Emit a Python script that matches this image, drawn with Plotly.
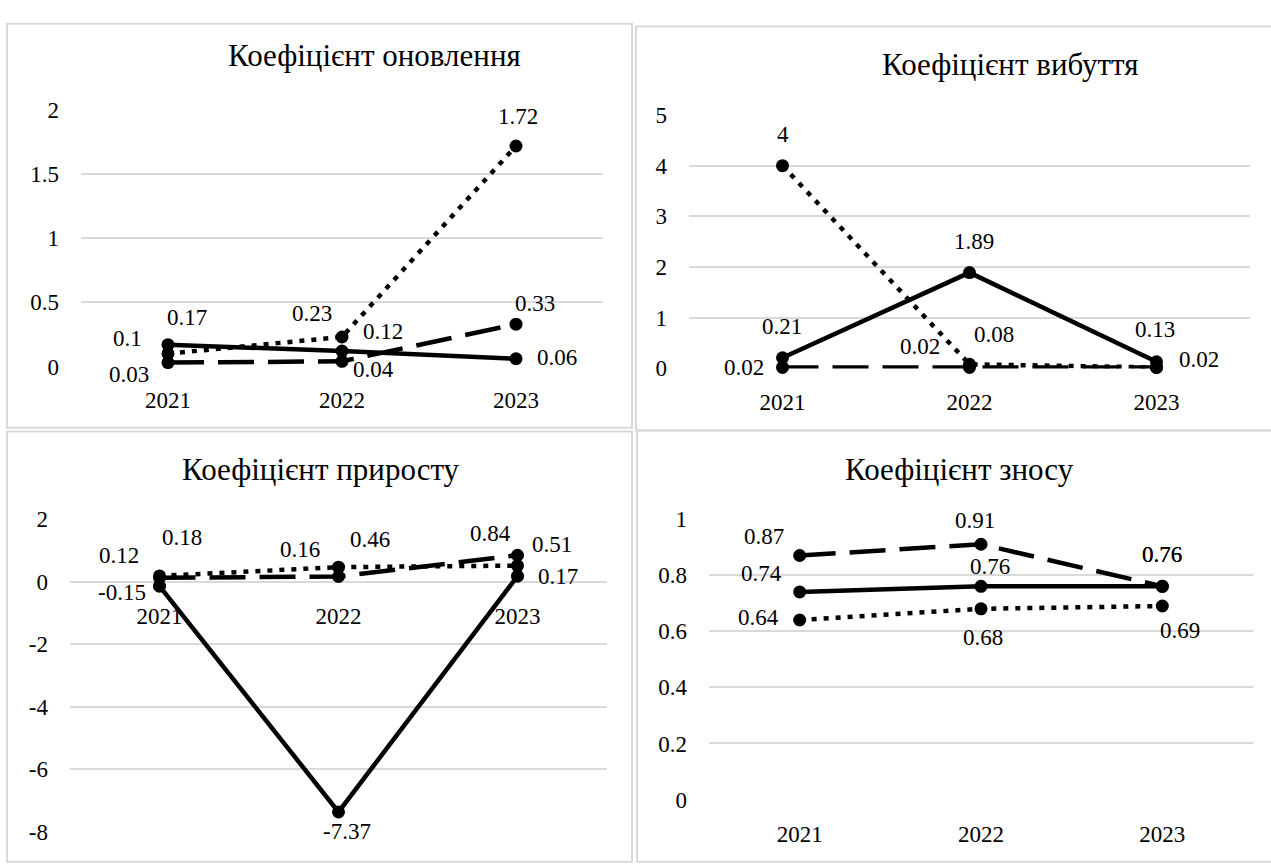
import plotly.graph_objects as go

# ---------------- data ----------------
years = ["2021", "2022", "2023"]

titles = ["Коефіцієнт оновлення", "Коефіцієнт вибуття", "Коефіцієнт приросту", "Коефіцієнт зносу"]

renewal_solid = [0.17, 0.12, 0.06]
renewal_dashed = [0.03, 0.04, 0.33]
renewal_dotted = [0.1, 0.23, 1.72]

disposal_solid = [0.21, 1.89, 0.13]
disposal_dashed = [0.02, 0.02, 0.02]
disposal_dotted = [4, 0.08, 0.02]

growth_solid = [-0.15, -7.37, 0.17]
growth_dashed = [0.12, 0.16, 0.84]
growth_dotted = [0.18, 0.46, 0.51]

wear_solid = [0.74, 0.76, 0.76]
wear_dashed = [0.87, 0.91, 0.76]
wear_dotted = [0.64, 0.68, 0.69]

y_ticks = [
    [0, 0.5, 1, 1.5, 2],
    [0, 1, 2, 3, 4, 5],
    [-8, -6, -4, -2, 0, 2],
    [0, 0.2, 0.4, 0.6, 0.8, 1],
]

# ---------------- layout / style ----------------
W, H = 1271, 868
FONT = "'Liberation Serif', 'Times New Roman', Times, 'DejaVu Serif', serif"
GRID = "#d9d9d9"
TXT = 23
TITLE = 31

# plot areas in pixels: (left, top, right, bottom)
areas = [(81, 101, 603, 365), (689, 106, 1250, 367), (70, 522, 607, 844), (709, 522, 1253, 811)]
# panel borders in pixels
borders = [(7, 12, 632, 428), (636, 15, 1275, 431), (7, 432, 632, 875), (637, 431, 1275, 875)]
# title centres in pixels
title_pos = [(374, 45), (1010, 54), (321, 471), (959, 471)]

line_styles = {
    "solid": dict(color="black", width=4.5, dash="solid"),
    "dashed": dict(color="black", width=4.5, dash="36px,14px"),
    "dotted": dict(color="black", width=4.5, dash="5px,7px"),
}

series = [
    {"dotted": renewal_dotted, "dashed": renewal_dashed, "solid": renewal_solid},
    {"dotted": disposal_dotted, "dashed": disposal_dashed, "solid": disposal_solid},
    {"dotted": growth_dotted, "dashed": growth_dashed, "solid": growth_solid},
    {"dotted": wear_dotted, "dashed": wear_dashed, "solid": wear_solid},
]

# label offsets (dx, dy) in pixels from each point (dy positive = downwards);
# None = label not shown (hidden behind another one in the original)
label_offsets = [
    {"solid": [(19, -27), (41, -20), (41, -1)],
     "dashed": [(-39, 12), (31, 8), (19, -21)],
     "dotted": [(-41, -15), (-30, -23), (2, -30)]},
    {"solid": [(-1, -31), (4, -31), (-2, -32)],
     "dashed": [(-39, 0), (-50, -21), None],
     "dotted": [(0, -31), (24, -30), (42, -8)]},
    {"solid": [(-38, 6), (8, 20), (40, 0)],
     "dashed": [(-41, -22), (-39, -27), (-27, -22)],
     "dotted": [(22, -38), (31, -28), (34, -21)]},
    {"solid": [(-38, -18), (9, -20), (0, -32)],
     "dashed": [(-36, -19), (-6, -24), (0, -32)],
     "dotted": [(-41, -3), (2, 29), (18, 25)]},
]


def fmt(v):
    return f"{v:g}"


fig = go.Figure()
annotations = []
shapes = []
layout_axes = {}

for i in range(4):
    n = i + 1
    xname = "x" if n == 1 else f"x{n}"
    yname = "y" if n == 1 else f"y{n}"
    xkey = "xaxis" if n == 1 else f"xaxis{n}"
    ykey = "yaxis" if n == 1 else f"yaxis{n}"
    left, top, right, bottom = areas[i]
    xdom = [left / W, right / W]
    ydom = [1 - bottom / H, 1 - top / H]
    ticks = y_ticks[i]
    r0, r1 = ticks[0], ticks[-1]
    eps = (r1 - r0) * 1e-4
    xidx = list(range(len(years)))

    for key in ["dotted", "dashed", "solid"]:
        vals = series[i][key]
        fig.add_trace(go.Scatter(
            x=xidx, y=vals, mode="lines+markers",
            line=line_styles[key],
            marker=dict(color="black", size=13),
            xaxis=xname, yaxis=yname, showlegend=False,
            cliponaxis=False, hoverinfo="y",
        ))
        for j, v in enumerate(vals):
            off = label_offsets[i][key][j]
            if off is None:
                continue
            dx, dy = off
            annotations.append(dict(
                x=xidx[j], y=v, xref=xname, yref=yname, text=fmt(v),
                showarrow=False, xshift=dx, yshift=-dy,
                xanchor="center", yanchor="middle",
                font=dict(family=FONT, size=TXT, color="black"),
            ))

    xaxis = dict(
        domain=xdom, anchor=yname, range=[-0.5, 2.5],
        tickmode="array", tickvals=xidx, ticktext=years,
        showgrid=False, zeroline=False, showline=False, ticks="",
        tickfont=dict(family=FONT, size=TXT, color="black"),
        ticklabelstandoff=18,
    )
    if r0 < 0 < r1:
        pos = ydom[0] + (0 - r0) / (r1 - r0) * (ydom[1] - ydom[0])
        xaxis.update(anchor="free", position=pos)
    layout_axes[xkey] = xaxis
    layout_axes[ykey] = dict(
        domain=ydom, anchor=xname, range=[r0 - eps, r1 + eps],
        tickmode="array", tickvals=ticks, ticktext=[fmt(t) for t in ticks],
        showgrid=True, gridcolor=GRID, gridwidth=2,
        zeroline=False, showline=False, ticks="",
        tickfont=dict(family=FONT, size=TXT, color="black"),
        ticklabelstandoff=21,
    )

    bx0, by0, bx1, by1 = borders[i]
    shapes.append(dict(
        type="rect", xref="paper", yref="paper",
        x0=bx0 / W, x1=bx1 / W, y0=1 - by1 / H, y1=1 - by0 / H,
        line=dict(color=GRID, width=2), fillcolor="rgba(0,0,0,0)", layer="below",
    ))
    tx, ty = title_pos[i]
    annotations.append(dict(
        x=tx / W, y=1 - ty / H, xref="paper", yref="paper", text=titles[i],
        showarrow=False, xanchor="center", yanchor="middle",
        font=dict(family=FONT, size=TITLE, color="black"),
    ))

fig.update_layout(
    width=W, height=H, autosize=False,
    margin=dict(l=0, r=0, t=0, b=0),
    paper_bgcolor="white", plot_bgcolor="white",
    showlegend=False,
    font=dict(family=FONT, color="black"),
    annotations=annotations, shapes=shapes,
    **layout_axes,
)

fig.write_html(
    "out.html",
    config={"displayModeBar": False, "responsive": False},
    post_script="document.body.style.margin='0';document.body.style.overflow='hidden';",
)
